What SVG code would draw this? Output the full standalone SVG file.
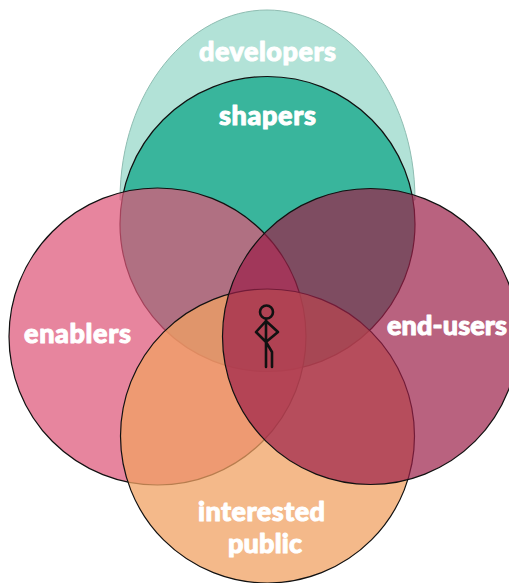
<svg xmlns="http://www.w3.org/2000/svg" width="509" height="583" viewBox="0 0 509 583">
<style>
.c{stroke:#111;stroke-width:1.2}
.t{font-family:"Lato","Liberation Sans",sans-serif;font-weight:900;fill:#fff;stroke:#fff;stroke-width:1;stroke-linejoin:round;font-size:27px}
.f{fill:none;stroke:#111;stroke-width:2.6;stroke-linejoin:round;stroke-linecap:round}
</style>
<rect width="509" height="583" fill="#fff"/>
<g id="developers"><path d="M120 200C120 90 190 10 267 10C345 10 415 90 415 200Z" fill="#b2e2d7" stroke="#8fbdb2" stroke-width="1"/><text class="t" x="199" y="61" textLength="137" lengthAdjust="spacing">developers</text></g>
<g id="shapers"><circle cx="267.500" cy="224" r="147.500" fill="#39b59c" class="c"/><text class="t" x="219" y="125" textLength="97" lengthAdjust="spacing">shapers</text></g>
<g id="enablers"><circle cx="157.500" cy="336.500" r="148.500" fill="#de5678" fill-opacity=".72" class="c"/></g>
<g id="interested-public"><circle cx="267.500" cy="436" r="147" fill="#f0a163" fill-opacity=".75" class="c"/></g>
<g id="end-users"><circle cx="370.500" cy="336.500" r="148" fill="#9b2048" fill-opacity=".7" class="c"/></g>
<text class="t" x="24" y="343" textLength="107" lengthAdjust="spacing">enablers</text>
<text class="t" x="387" y="335" textLength="120" lengthAdjust="spacing">end-users</text>
<text class="t" x="198" y="521" textLength="127" lengthAdjust="spacing">interested</text>
<text class="t" x="228" y="553" textLength="74" lengthAdjust="spacing">public</text>
<g id="person" class="f"><circle cx="266.500" cy="312" r="6.500"/><path d="M266 319V342L256 332L266 321L278 332L266 342L272 352V367M266 342V367"/></g>
<g id="connectors"></g>
</svg>
